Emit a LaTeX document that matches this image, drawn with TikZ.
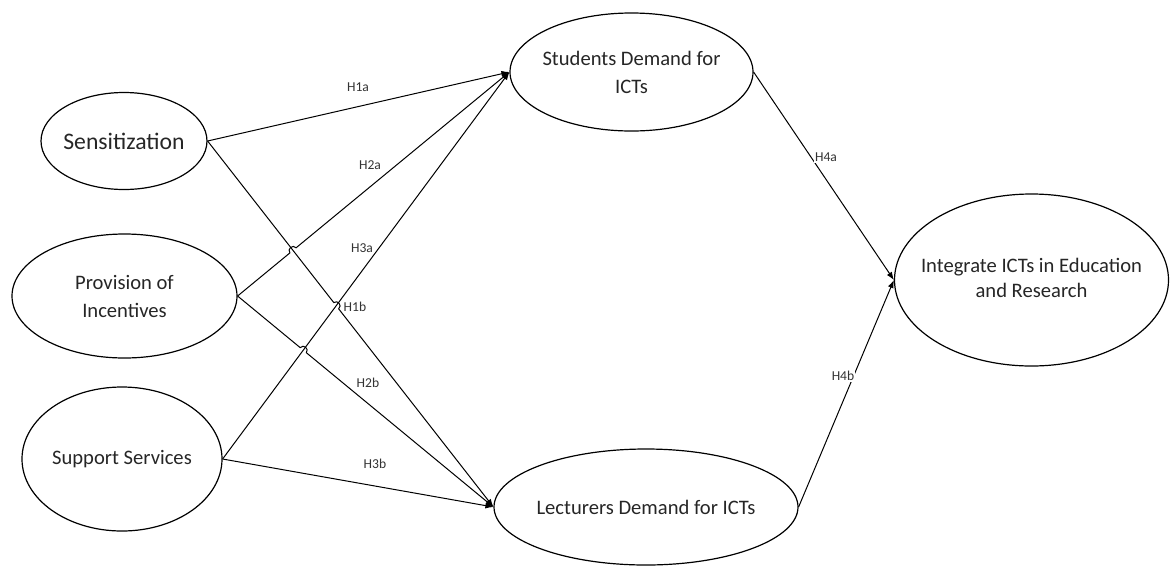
\documentclass[tikz,border=0pt]{standalone}
\usepackage{fontspec}
\setmainfont{Carlito}
\usetikzlibrary{shapes.geometric,arrows.meta,calc,intersections}
\begin{document}
\begin{tikzpicture}[x=1pt,y=-1pt,
  construct/.style={draw, ellipse, line width=1.2pt, inner sep=0pt},
  ctext/.style={align=center, text=black!85, inner sep=0pt, font=\fontsize{20.6}{28}\selectfont},
  link/.style={line width=1pt, -{Latex[length=8pt,width=6pt]}},
  hyp/.style={fill=white, inner sep=1.2pt, text=black!80, font=\fontsize{13.6}{15}\selectfont}]
\useasboundingbox (0,0) rectangle (1170,566);
% constructs
\node[construct, minimum width=166pt, minimum height=97pt] (sens) at (124,141) {};
\node[ctext, font=\fontsize{23.7}{28}\selectfont] (sensT) at (sens.center) {Sensitization};
\node[construct, minimum width=225pt, minimum height=124pt] (prov) at (124.5,296) {};
\node[ctext] (provT) at (prov.center) {Provision of\\Incentives};
\node[construct, minimum width=200pt, minimum height=144pt] (supp) at (122,459) {};
\node[ctext] (suppT) at (supp.center) {Support Services};
\node[construct, minimum width=243pt, minimum height=118pt] (stud) at (631.5,72) {};
\node[ctext] (studT) at (stud.center) {Students Demand for\\ICTs};
\node[construct, minimum width=304pt, minimum height=116pt] (lect) at (646,507) {};
\node[ctext] (lectT) at (lect.center) {Lecturers Demand for ICTs};
\node[construct, minimum width=274pt, minimum height=172pt] (integ) at (1031.5,280) {};
\node[ctext, font=\fontsize{20.6}{25.5}\selectfont] (integT) at ($(integ.center)+(0,-2)$) {Integrate ICTs in Education\\and Research};
% paths for crossings
\path[name path=p1b] (sens.east) -- (lect.west);
\path[name path=p2a] (prov.east) -- (stud.west);
\path[name path=p3a] (supp.east) -- (stud.west);
\path[name path=p2b] (prov.east) -- (lect.west);
\path[name intersections={of=p2a and p1b, by=c1}];
\path[name intersections={of=p1b and p3a, by=c2}];
\path[name intersections={of=p2b and p3a, by=c3}];
\coordinate (c1a) at ($(c1)!4pt!(prov.east)$);
\coordinate (c1b) at ($(c1)!4pt!(stud.west)$);
\coordinate (c2a) at ($(c2)!4pt!(sens.east)$);
\coordinate (c2b) at ($(c2)!4pt!(lect.west)$);
\coordinate (c3a) at ($(c3)!4pt!(prov.east)$);
\coordinate (c3b) at ($(c3)!4pt!(lect.west)$);
% connectors
\draw[link] (sens.east) -- (stud.west);
\draw[link] (sens.east) -- (c2a) .. controls ($(c2a)!5pt!90:(c2b)$) and ($(c2b)!5pt!-90:(c2a)$) .. (c2b) -- (lect.west);
\draw[link] (prov.east) -- (c1a) .. controls ($(c1a)!5pt!90:(c1b)$) and ($(c1b)!5pt!-90:(c1a)$) .. (c1b) -- (stud.west);
\draw[link] (prov.east) -- (c3a) .. controls ($(c3a)!5pt!90:(c3b)$) and ($(c3b)!5pt!-90:(c3a)$) .. (c3b) -- (lect.west);
\draw[link] (supp.east) -- (stud.west);
\draw[link] (supp.east) -- (lect.west);
\draw[link] (stud.east) -- (integ.west);
\draw[link] (lect.east) -- (integ.west);
% hypothesis labels
\node[hyp] (h1a) at (358,87) {H1a};
\node[hyp] (h2a) at (370,165) {H2a};
\node[hyp] (h3a) at (362,248) {H3a};
\node[hyp] (h1b) at (355,307) {H1b};
\node[hyp] (h2b) at (368,383) {H2b};
\node[hyp] (h3b) at (375,464) {H3b};
\node[hyp] (h4a) at (826,157) {H4a};
\node[hyp] (h4b) at (843,376) {H4b};
\end{tikzpicture}
\end{document}
